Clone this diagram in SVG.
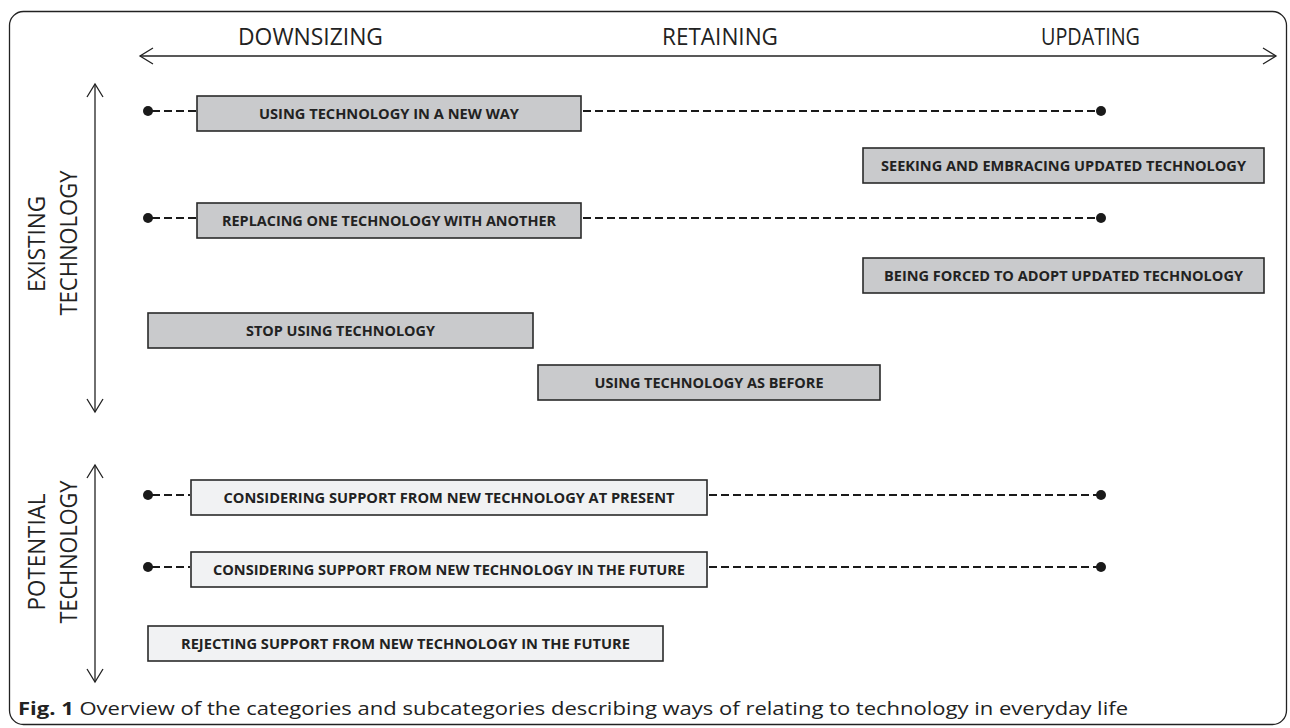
<svg xmlns="http://www.w3.org/2000/svg" width="1290" height="728" viewBox="0 0 1290 728">
<style>
.axis{stroke:#222;stroke-width:1.3;fill:none}
.head{stroke:#222;stroke-width:1.3;fill:none;stroke-linejoin:miter}
.hl{font-family:"Open Sans","Liberation Sans",sans-serif;font-size:23px;fill:#222;text-anchor:middle}
.box{stroke:#2a2a2a;stroke-width:1.6}
.dark{fill:#c9cacc}
.light{fill:#f1f2f3}
.bt{font-family:"Open Sans","Liberation Sans",sans-serif;font-weight:bold;font-size:15px;fill:#222;text-anchor:middle}
.dash{stroke:#1a1a1a;stroke-width:2.2;stroke-dasharray:8 4;fill:none}
.dot{fill:#1a1a1a}
.cap{font-family:"Open Sans","Liberation Sans",sans-serif;font-size:17.5px;fill:#222}
</style>
<rect x="9.5" y="11.5" width="1277" height="713" rx="14" fill="#fff" stroke="#222" stroke-width="1.3"/>
<g id="axes">
<line class="axis" x1="140" y1="56" x2="1276" y2="56"/>
<polyline class="head" points="153,48 140,56 153,64"/>
<polyline class="head" points="1263,48 1276,56 1263,64"/>
<line class="axis" x1="95" y1="84" x2="95" y2="412"/>
<polyline class="head" points="87,97 95,84 103,97"/>
<polyline class="head" points="87,399 95,412 103,399"/>
<line class="axis" x1="95" y1="465" x2="95" y2="682"/>
<polyline class="head" points="87,478 95,465 103,478"/>
<polyline class="head" points="87,669 95,682 103,669"/>
</g>
<g id="labels">
<text class="hl" x="310.5" y="44.5" textLength="145" lengthAdjust="spacingAndGlyphs">DOWNSIZING</text>
<text class="hl" x="720" y="44.5" textLength="116" lengthAdjust="spacingAndGlyphs">RETAINING</text>
<text class="hl" x="1090.5" y="44.5" textLength="99" lengthAdjust="spacingAndGlyphs">UPDATING</text>
<text class="hl" transform="translate(45,244) rotate(-90)" textLength="96" lengthAdjust="spacingAndGlyphs">EXISTING</text>
<text class="hl" transform="translate(77,243) rotate(-90)" textLength="145" lengthAdjust="spacingAndGlyphs">TECHNOLOGY</text>
<text class="hl" transform="translate(45,552) rotate(-90)" textLength="117" lengthAdjust="spacingAndGlyphs">POTENTIAL</text>
<text class="hl" transform="translate(77,552) rotate(-90)" textLength="143" lengthAdjust="spacingAndGlyphs">TECHNOLOGY</text>
</g>
<g id="connectors">
<line class="dash" x1="152" y1="111" x2="196" y2="111"/>
<line class="dash" x1="583" y1="111" x2="1098" y2="111"/>
<circle class="dot" cx="148" cy="111" r="5"/>
<circle class="dot" cx="1101" cy="111" r="5"/>
<line class="dash" x1="152" y1="218" x2="196" y2="218"/>
<line class="dash" x1="583" y1="218" x2="1098" y2="218"/>
<circle class="dot" cx="148" cy="218" r="5"/>
<circle class="dot" cx="1101" cy="218" r="5"/>
<line class="dash" x1="152" y1="495" x2="190" y2="495"/>
<line class="dash" x1="709" y1="495" x2="1098" y2="495"/>
<circle class="dot" cx="148" cy="495" r="5"/>
<circle class="dot" cx="1101" cy="495" r="5"/>
<line class="dash" x1="152" y1="567" x2="190" y2="567"/>
<line class="dash" x1="709" y1="567" x2="1098" y2="567"/>
<circle class="dot" cx="148" cy="567" r="5"/>
<circle class="dot" cx="1101" cy="567" r="5"/>
</g>
<g id="n1"><rect class="box dark" x="197" y="96" width="384" height="35"/><text class="bt" x="389" y="119" textLength="260" lengthAdjust="spacingAndGlyphs">USING TECHNOLOGY IN A NEW WAY</text></g>
<g id="n2"><rect class="box dark" x="197" y="203" width="384" height="35"/><text class="bt" x="389" y="226" textLength="334" lengthAdjust="spacingAndGlyphs">REPLACING ONE TECHNOLOGY WITH ANOTHER</text></g>
<g id="n3"><rect class="box dark" x="863" y="148" width="401" height="35"/><text class="bt" x="1063.5" y="171" textLength="365" lengthAdjust="spacingAndGlyphs">SEEKING AND EMBRACING UPDATED TECHNOLOGY</text></g>
<g id="n4"><rect class="box dark" x="863" y="258" width="401" height="35"/><text class="bt" x="1063.5" y="281" textLength="359" lengthAdjust="spacingAndGlyphs">BEING FORCED TO ADOPT UPDATED TECHNOLOGY</text></g>
<g id="n5"><rect class="box dark" x="148" y="313" width="385" height="35"/><text class="bt" x="340.5" y="336" textLength="189" lengthAdjust="spacingAndGlyphs">STOP USING TECHNOLOGY</text></g>
<g id="n6"><rect class="box dark" x="538" y="365" width="342" height="35"/><text class="bt" x="709" y="388" textLength="229" lengthAdjust="spacingAndGlyphs">USING TECHNOLOGY AS BEFORE</text></g>
<g id="n7"><rect class="box light" x="191" y="480" width="516" height="35"/><text class="bt" x="449" y="503" textLength="451" lengthAdjust="spacingAndGlyphs">CONSIDERING SUPPORT FROM NEW TECHNOLOGY AT PRESENT</text></g>
<g id="n8"><rect class="box light" x="191" y="552" width="516" height="35"/><text class="bt" x="449" y="575" textLength="472" lengthAdjust="spacingAndGlyphs">CONSIDERING SUPPORT FROM NEW TECHNOLOGY IN THE FUTURE</text></g>
<g id="n9"><rect class="box light" x="148" y="626" width="515" height="35"/><text class="bt" x="405.5" y="649" textLength="449" lengthAdjust="spacingAndGlyphs">REJECTING SUPPORT FROM NEW TECHNOLOGY IN THE FUTURE</text></g>
<g id="caption"><text class="cap" x="18" y="715" textLength="1110" lengthAdjust="spacingAndGlyphs"><tspan font-weight="bold">Fig. 1</tspan> Overview of the categories and subcategories describing ways of relating to technology in everyday life</text></g>
</svg>
